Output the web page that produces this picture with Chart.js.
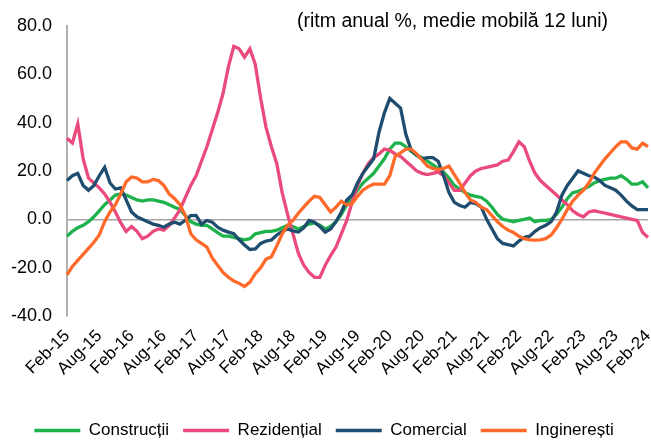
<!DOCTYPE html>
<html>
<head>
<meta charset="utf-8">
<script src="https://cdn.jsdelivr.net/npm/chart.js@4"></script>
<style>
  html, body { margin: 0; padding: 0; background: #fff; }
</style>
</head>
<body>
<canvas id="chart" width="651" height="441"></canvas>
<script>
// monthly data, Feb-15 .. Feb-24 (109 points)
const monthNames = ['Jan','Feb','Mar','Apr','May','Jun','Jul','Aug','Sep','Oct','Nov','Dec'];
const categories = [];
for (let i = 0; i < 109; i++) {
    const m = (1 + i) % 12;
    const y = 15 + Math.floor((1 + i) / 12);
    categories.push(monthNames[m] + '-' + y);
}

const tickLabels = ['Feb-15','Aug-15','Feb-16','Aug-16','Feb-17','Aug-17','Feb-18','Aug-18','Feb-19',
    'Aug-19','Feb-20','Aug-20','Feb-21','Aug-21','Feb-22','Aug-22','Feb-23','Aug-23','Feb-24'];

const constructii = [
    -7, -5, -3.5, -2.5, -1, 1, 3.5, 6, 8, 10,
    10.5, 10, 9, 8, 7.5, 8, 8, 7.5, 7, 6,
    5, 4, 1.5, -1, -2, -2.5, -2.5, -4, -5.5, -7,
    -7, -7.5, -8, -8.5, -8, -6, -5.5, -5, -5, -4.5,
    -3.5, -2.5, -3, -4, -3, -2, -1.5, -2.5, -4, -3,
    -1, 2, 6, 9, 12, 15, 17, 19, 22, 25,
    29, 31.5, 31.5, 30, 28, 26.5, 25.5, 24, 22.5, 21,
    19.5, 17, 14, 12.5, 11, 10, 9.5, 9, 7.5, 5,
    2, 0, -0.5, -1, -0.5, 0, 0.5, -1, -0.5, -0.5,
    0, 2, 5, 8.5, 11, 11.5, 12.5, 13.5, 15, 16,
    16.5, 17, 17, 18, 16.5, 14.5, 14.5, 15.5, 13
];

const rezidential = [
    33.5, 31.5, 39.5, 25, 17, 15, 13, 10.5, 7, 3,
    -1.5, -5, -3, -5, -8, -7, -5, -4, -4.5, -2.5,
    0.5, 4, 9, 14, 18, 24, 30, 37, 44, 52,
    63, 71.5, 70.5, 67, 70.5, 64, 50, 38, 30, 23,
    11, 2, -6, -14, -19, -22, -24, -24, -19, -15,
    -11.5, -6, -0.5, 7, 14, 19, 23, 25.5, 27, 29,
    28.5, 27, 26, 24, 22, 20, 19, 18.5, 19, 19.5,
    18, 15, 12, 12, 15, 18, 20, 21, 21.5, 22,
    22.5, 24, 24.5, 28, 32, 30, 24, 19, 16, 14,
    12, 10, 8, 6, 3.5, 2, 1, 3, 3.5, 3,
    2.5, 2, 1.5, 1, 0.5, 0, -0.5, -5.5, -7.5
];

const comercial = [
    16, 18, 19, 14, 12, 14, 18, 21.5, 15, 12.5,
    13, 8, 3, 1, 0, -1, -2, -2.5, -3.3, -2,
    -1.2, -2, -0.4, 1.5, 1.6, -2, -0.5, -1.2, -3.3, -4.5,
    -5.3, -6, -8.5, -10.6, -12.5, -12.3, -10, -9, -8.6, -6.5,
    -5, -4, -4.8, -5.3, -3.5, -0.5, -1.2, -3, -5.3, -4,
    -1, 3, 8, 10, 15, 19, 22, 25, 36, 44,
    50, 48, 46, 35, 28.5, 26.5, 25, 25.5, 25.5, 24,
    18, 11, 7, 5.7, 5, 7, 6.5, 5, 0, -4,
    -8, -10, -10.5, -11, -9, -7.5, -7, -5, -3.5, -2.5,
    -1, 3, 10, 14, 17, 20, 19, 18, 17.5, 16,
    14, 13, 12, 10, 7.5, 5.5, 4, 4, 4
];

const ingineresti = [
    -23, -19.5, -17, -14.5, -12, -9.5, -6.5, -1, 3, 6,
    10.5, 15.5, 17.5, 17, 15.5, 15.5, 16.5, 16, 14, 10.5,
    8.5, 6, 1.5, -6, -8.5, -10, -11.5, -16, -19, -22,
    -24, -25.5, -26.5, -27.8, -26, -22.5, -20, -16.5, -15.5, -11,
    -6, -2.5, -0.5, 2.5, 5, 7.5, 9.5, 9, 6, 3,
    5, 7.5, 6, 6.5, 9.5, 12, 13.5, 14.5, 14.5, 14.5,
    18, 26, 27.5, 29, 29, 27, 24.5, 22, 21, 20.5,
    21, 22, 18.5, 15, 11, 8, 7, 5, 4, 1.5,
    -1, -3, -4.5, -5.5, -7, -8, -8.5, -8.6, -8.5, -8,
    -6.5, -3.5, 0, 4, 7.5, 10, 12, 15, 19, 22,
    25, 27.5, 30, 32, 32, 29.5, 29, 31.5, 30
];

const seriesNames = ['Construcții', 'Rezidențial', 'Comercial', 'Inginerești'];
const seriesColors = ['#1db24b', '#ea4a7c', '#1f4d6f', '#ff6a2b'];
const seriesData = [constructii, rezidential, comercial, ingineresti];

const noteText = '(ritm anual %, medie mobilă 12 luni)';

Chart.defaults.font.family = '"Liberation Sans", Arial, sans-serif';
Chart.defaults.color = '#000';

// note in the top right corner + push the legend a bit lower
const notePlugin = {
    id: 'note',
    afterLayout(chart) {
        const lg = chart.legend;
        if (lg) {
            lg.top += 8;
            lg.bottom += 8;
        }
    },
    afterDraw(chart) {
        const ctx = chart.ctx;
        ctx.save();
        ctx.font = '19.5px "Liberation Sans", Arial, sans-serif';
        ctx.fillStyle = '#000';
        ctx.textBaseline = 'middle';
        ctx.textAlign = 'left';
        ctx.fillText(noteText, 297, 22);
        ctx.restore();
    }
};

new Chart(document.getElementById('chart'), {
    type: 'line',
    data: {
        labels: categories,
        datasets: seriesData.map((d, i) => ({
            label: seriesNames[i],
            data: d,
            borderColor: seriesColors[i],
            backgroundColor: seriesColors[i],
            borderWidth: 3.3,
            pointRadius: 0,
            tension: 0,
            order: 3 - i
        }))
    },
    options: {
        responsive: false,
        animation: false,
        layout: { padding: { top: 16, right: 3, left: 0, bottom: 0 } },
        plugins: {
            tooltip: { enabled: false },
            legend: {
                position: 'bottom',
                labels: {
                    usePointStyle: true,
                    pointStyle: 'line',
                    pointStyleWidth: 46,
                    boxHeight: 17,
                    padding: 14,
                    font: { size: 17 },
                    color: '#000',
                    sort: (a, b) => a.datasetIndex - b.datasetIndex
                }
            }
        },
        scales: {
            x: {
                offset: false,
                grid: { display: false },
                border: { display: false },
                ticks: {
                    autoSkip: false,
                    maxRotation: 45,
                    minRotation: 45,
                    padding: 2,
                    font: { size: 17 },
                    color: '#000',
                    callback: (val, idx) => idx % 6 === 0 ? tickLabels[idx / 6] : ''
                },
                afterFit: (s) => {
                    s.height = 84;
                    s.paddingRight = 0;
                    s.paddingLeft = 0;
                }
            },
            y: {
                min: -40,
                max: 80,
                grid: {
                    drawTicks: false,
                    color: (c) => c.tick && c.tick.value === 0 ? '#a6a6a6' : 'rgba(0,0,0,0)',
                    lineWidth: 1.5
                },
                border: { display: true, color: '#b0b0b0', width: 2 },
                ticks: {
                    stepSize: 20,
                    padding: 15,
                    font: { size: 18 },
                    color: '#000',
                    callback: (v) => v.toFixed(1)
                },
                afterFit: (s) => { s.width = 67; }
            }
        }
    },
    plugins: [notePlugin]
});
</script>
</body>
</html>
